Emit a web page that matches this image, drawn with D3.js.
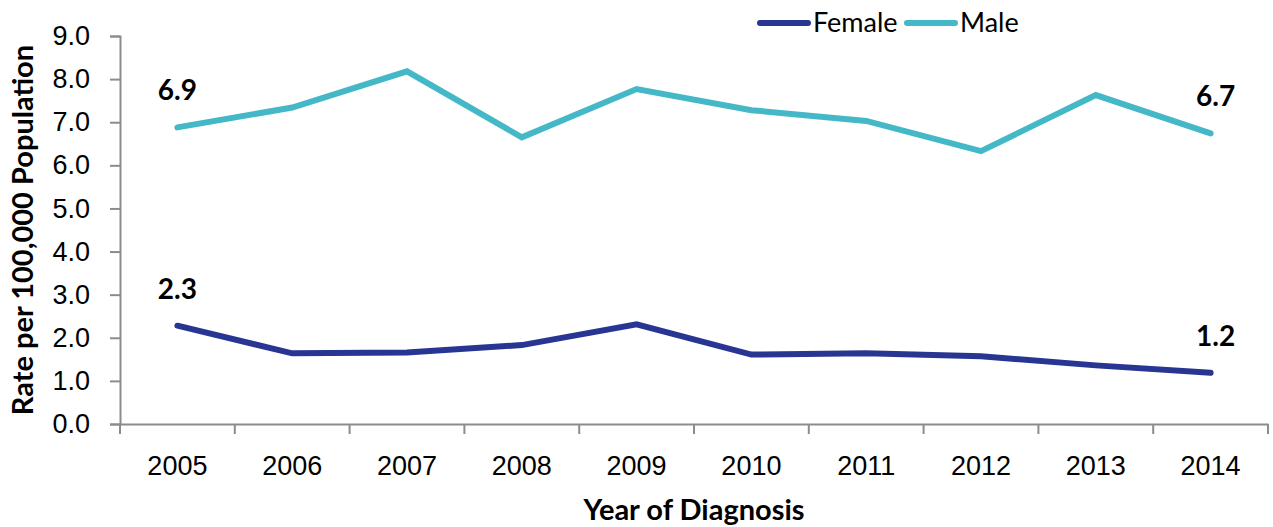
<!DOCTYPE html>
<html lang="en">
<head>
  <meta charset='utf-8'>
  <title>Rate per 100,000 Population by Year of Diagnosis</title>
  <style>
    body { margin: 0; background: #ffffff; }
    svg { font-family: Lato, "Open Sans", sans-serif; }
  </style>
</head>
<body>
  <div id="chart"></div>
</body>

<script src="https://cdn.jsdelivr.net/npm/d3@7"></script>
<script>

  ////////////////////////////////////////////////// DATA

  var years      = ["2005","2006","2007","2008","2009","2010","2011","2012","2013","2014"];
  var femaleRate = [2.28, 1.64, 1.66, 1.83, 2.31, 1.61, 1.64, 1.57, 1.36, 1.19];
  var maleRate   = [6.88, 7.34, 8.18, 6.65, 7.77, 7.28, 7.03, 6.33, 7.63, 6.74];
  var yTicks     = [0, 1, 2, 3, 4, 5, 6, 7, 8, 9];

  var series = [
    { name: "Female", values: femaleRate, color: "#283593" },
    { name: "Male",   values: maleRate,   color: "#45b8c8" }
  ];

  ////////////////////////////////////////////////// SETUP

  var width = 1273, height = 527;
  var margin = {top: 36, right: 5, bottom: 103, left: 120};

  var svg = d3.select("#chart").append("svg")
              .attr("width", width)
              .attr("height", height);

  var x = d3.scaleBand()
            .domain(years)
            .range([margin.left, width - margin.right]);

  var y = d3.scaleLinear()
            .domain([0, 9])
            .range([height - margin.bottom, margin.top]);

  // y axis
  var yAxis = svg.append("g")
                 .attr("transform", "translate(" + margin.left + ",0)")
                 .call(d3.axisLeft(y).tickValues(yTicks).tickFormat(d3.format(".1f")).tickSize(10).tickPadding(20));

  // x axis (ticks at category boundaries, like excel)
  var xAxis = svg.append("g")
                 .attr("transform", "translate(0," + y(0) + ")")
                 .call(d3.axisBottom(x).tickSize(0).tickPadding(32));

  xAxis.selectAll(".tick")
       .append("line")
       .attr("x1", -x.bandwidth() / 2).attr("x2", -x.bandwidth() / 2)
       .attr("y1", 0).attr("y2", 10)
       .attr("stroke", "#8c8c8c").attr("stroke-width", 2);
  xAxis.append("line")
       .attr("x1", x.range()[1]).attr("x2", x.range()[1])
       .attr("y1", 0).attr("y2", 10)
       .attr("stroke", "#8c8c8c").attr("stroke-width", 2);

  svg.selectAll(".domain").attr("stroke", "#8c8c8c").attr("stroke-width", 2);
  yAxis.selectAll(".tick line").attr("stroke", "#8c8c8c").attr("stroke-width", 2);
  svg.selectAll(".tick text").attr("fill", "#000").style("font-size", "27px");

  // axis titles
  svg.append("text")
     .attr("transform", "translate(33," + ((y(0) + y(9)) / 2) + ") rotate(-90)")
     .attr("text-anchor", "middle")
     .style("font-size", "29px").style("font-weight", "bold")
     .text("Rate per 100,000 Population");

  svg.append("text")
     .attr("x", (x.range()[0] + x.range()[1]) / 2)
     .attr("y", 520)
     .attr("text-anchor", "middle")
     .style("font-size", "29px").style("font-weight", "bold")
     .text("Year of Diagnosis");

  ////////////////////////////////////////////////// LINES

  var line = d3.line()
               .x(function(d, i) { return x(years[i]) + x.bandwidth() / 2; })
               .y(function(d) { return y(d); });

  svg.selectAll(".series")
     .data(series)
     .enter()
     .append("path")
     .attr("class", "series")
     .attr("d", function(d) { return line(d.values); })
     .attr("fill", "none")
     .attr("stroke", function(d) { return d.color; })
     .attr("stroke-width", 6)
     .attr("stroke-linecap", "round")
     .attr("stroke-linejoin", "miter");

  // data labels on the first and last points
  series.forEach(function(s) {
    [0, years.length - 1].forEach(function(i) {
      svg.append("text")
         .attr("x", x(years[i]) + x.bandwidth() / 2 + (i === 0 ? 0 : 5))
         .attr("y", y(s.values[i]) - 27)
         .attr("text-anchor", "middle")
         .style("font-size", "28px").style("font-weight", "bold")
         .text(d3.format(".1f")(s.values[i]));
    });
  });

  ////////////////////////////////////////////////// LEGEND

  var legend = svg.append("g").attr("transform", "translate(760,23)");
  var legendX = [0, 147];

  series.forEach(function(s, i) {
    var g = legend.append("g").attr("transform", "translate(" + legendX[i] + ",0)");
    g.append("line")
     .attr("x1", 0).attr("x2", 48)
     .attr("stroke", s.color).attr("stroke-width", 6).attr("stroke-linecap", "round");
    g.append("text")
     .attr("x", 53).attr("y", 9)
     .style("font-size", "27px")
     .text(s.name);
  });

</script>
</html>
